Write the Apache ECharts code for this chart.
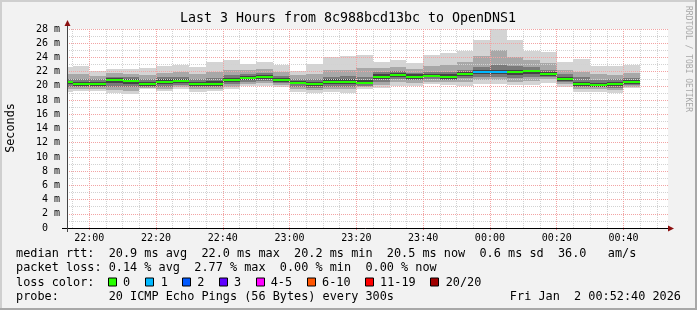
<!DOCTYPE html>
<html>
<head>
<meta charset="utf-8">
<script src="https://cdn.jsdelivr.net/npm/echarts@6/dist/echarts.min.js"></script>
<style>html,body{margin:0;padding:0;background:#f2f2f2}#c{width:697px;height:310px}</style>
</head>
<body>
<div id="c"></div>
<script>
// ---- data ----
const plotStart = "21:53:20";
const plotEnd = "00:53:20";
const bucketEnd = ["21:55","22:00","22:05","22:10","22:15","22:20","22:25","22:30","22:35","22:40","22:45","22:50","22:55","23:00","23:05","23:10","23:15","23:20","23:25","23:30","23:35","23:40","23:45","23:50","23:55","00:00","00:05","00:10","00:15","00:20","00:25","00:30","00:35","00:40","00:45"];
const median = [20.5,20.3,20.3,20.85,20.75,20.3,20.6,20.75,20.3,20.3,20.85,21.15,21.3,20.85,20.45,20.25,20.6,20.6,20.45,21.3,21.55,21.3,21.45,21.3,21.7,21.9,21.9,21.9,22.05,21.7,21.0,20.3,20.15,20.25,20.5];
const lossCount = [0,0,0,0,0,0,0,0,0,0,0,0,0,0,0,0,0,0,0,0,0,0,0,0,0,1,1,0,0,0,0,0,0,0,0];
const minV = [19.2,19.3,19.3,18.95,18.85,19.5,19.3,19.5,19.2,19.3,19.5,20.0,20.0,19.8,19.2,18.95,19.2,18.95,19.5,19.65,20.0,20.0,20.2,20.1,20.0,20.3,20.3,20.1,20.1,20.45,19.8,19.2,19.2,18.95,19.65];
const maxV = [22.7,22.85,22.1,22.4,22.4,22.5,22.85,23.0,22.7,23.4,23.6,23.1,23.4,22.9,22.1,23.1,24.0,24.2,24.35,23.3,23.6,23.2,24.35,24.65,24.95,26.45,28.1,26.45,24.95,24.8,23.3,23.8,22.8,22.85,23.0];
const lo1 = [19.6,19.6,19.6,19.4,19.3,19.7,19.6,19.8,19.6,19.6,19.9,20.3,20.4,20.1,19.6,19.4,19.6,19.5,19.8,20.1,20.5,20.4,20.6,20.5,20.6,20.8,20.8,20.6,20.7,20.9,20.2,19.6,19.5,19.4,19.9];
const hi1 = [21.6,21.7,21.4,21.8,21.7,21.5,21.8,22.0,21.6,21.9,22.2,22.2,22.4,22.0,21.5,21.6,22.2,22.3,22.5,22.5,22.7,22.4,22.8,22.9,23.3,24.2,25.0,24.1,23.6,23.2,22.3,22.0,21.6,21.5,21.8];
const lo2 = [19.9,19.9,19.9,19.9,19.8,19.9,19.9,20.1,19.8,19.9,20.3,20.6,20.7,20.4,19.9,19.7,19.9,19.9,20.0,20.6,20.9,20.8,20.9,20.8,21.1,21.2,21.2,21.1,21.2,21.2,20.5,19.9,19.8,19.7,20.1];
const hi2 = [21.0,21.0,20.9,21.3,21.2,21.0,21.2,21.3,21.0,21.1,21.5,21.7,21.8,21.4,21.0,20.9,21.3,21.4,21.3,21.9,22.1,21.8,22.0,21.9,22.3,22.7,23.0,22.8,22.7,22.3,21.6,21.2,20.8,20.9,21.1];
const lo3 = [20.2,20.0,20.0,20.4,20.3,20.05,20.2,20.4,20.0,20.0,20.5,20.8,21.0,20.6,20.2,19.95,20.3,20.3,20.2,21.0,21.2,21.0,21.2,21.0,21.4,21.6,21.6,21.5,21.6,21.4,20.7,20.0,19.9,19.95,20.3];
const hi3 = [20.7,20.6,20.6,21.1,21.0,20.6,20.9,21.0,20.6,20.7,21.1,21.4,21.5,21.1,20.7,20.5,20.9,20.9,20.8,21.6,21.8,21.6,21.7,21.6,22.0,22.2,22.3,22.2,22.3,22.0,21.3,20.6,20.4,20.5,20.8];
const xTickLabels = ["22:00","22:20","22:40","23:00","23:20","23:40","00:00","00:20","00:40"];
const yMax = 28, yStep = 2;
const lossLabels = ["0","1","2","3","4-5","6-10","11-19","20/20"];
const lossColors = ["#26ff00","#00b8ff","#0059ff","#5e00ff","#ff00ff","#ff5500","#ff0000","#a10000"];
const titleText = "Last 3 Hours from 8c988bcd13bc to OpenDNS1";
const line1 = "median rtt:  20.9 ms avg  22.0 ms max  20.2 ms min  20.5 ms now  0.6 ms sd  36.0   am/s";
const line2 = "packet loss: 0.14 % avg  2.77 % max  0.00 % min  0.00 % now";
const line4 = "probe:       20 ICMP Echo Pings (56 Bytes) every 300s";
const dateText = "Fri Jan  2 00:52:40 2026";

// ---- helpers ----
function toMin(s){const p=s.split(':').map(Number);let h=p[0];if(h<12)h+=24;return (h-21)*60+p[1]+(p[2]||0)/60;}
function fmtMin(v){const m=Math.round(v)+21*60;const h=Math.floor(m/60)%24;const mm=m%60;return (h<10?'0':'')+h+':'+(mm<10?'0':'')+mm;}
const xMin = toMin(plotStart), xMax = toMin(plotEnd);
const ends = bucketEnd.map(toMin);
const starts = ends.map((e,i)=> i===0 ? xMin : ends[i-1]);
const majorVals = xTickLabels.map(toMin);
const minorVals = [];
for (let v = 55; v < xMax; v += 5) { if (v % 20 !== 0) minorVals.push(v); }

const smokeData = ends.map((e,i)=>[starts[i], e, minV[i], lo1[i], lo2[i], lo3[i], hi3[i], hi2[i], hi1[i], maxV[i]]);
const medData = ends.map((e,i)=>[starts[i], e, median[i], lossCount[i]]);
function lossColor(n){ if(n<=0) return lossColors[0]; if(n===1) return lossColors[1]; if(n===2) return lossColors[2]; if(n===3) return lossColors[3]; if(n<=5) return lossColors[4]; if(n<=10) return lossColors[5]; if(n<=19) return lossColors[6]; return lossColors[7]; }

const MONO = '"DejaVu Sans Mono"';
const chart = echarts.init(document.getElementById('c'), null, {renderer:'canvas'});

const G = {left:67, top:29, right:29, bottom:82};
const pinkGrid = '#f2a4a4', greyGrid = '#d2d2d2';

function txt(x,y,text,size,opts){
  opts = opts||{};
  return {type:'text', x:x, y:y, rotation:opts.rot||0, z:20, silent:true,
    style:{text:text, font:size+'px '+MONO, fill:opts.fill||'#000',
      textAlign:opts.align||'left', align:opts.align||'left',
      textVerticalAlign:'middle', verticalAlign:'middle'}};
}

const graphics = [
  {type:'rect', shape:{x:0,y:0,width:697,height:2}, style:{fill:'#cfcfcf'}, z:20, silent:true},
  {type:'rect', shape:{x:0,y:0,width:2,height:310}, style:{fill:'#cfcfcf'}, z:20, silent:true},
  {type:'rect', shape:{x:695,y:0,width:2,height:310}, style:{fill:'#a8a8a8'}, z:20, silent:true},
  {type:'rect', shape:{x:0,y:308,width:697,height:2}, style:{fill:'#a8a8a8'}, z:20, silent:true},
  {type:'line', shape:{x1:62,y1:228.5,x2:669,y2:228.5}, style:{stroke:'#000',lineWidth:1}, z:20, silent:true},
  {type:'polygon', shape:{points:[[668,225.5],[674,228.5],[668,231.5]]}, style:{fill:'#8c1010'}, z:20, silent:true},
  {type:'line', shape:{x1:67.5,y1:232,x2:67.5,y2:24}, style:{stroke:'#444',lineWidth:1}, z:20, silent:true},
  {type:'polygon', shape:{points:[[64.5,26],[67.5,20],[70.5,26]]}, style:{fill:'#8c1010'}, z:20, silent:true},
  txt(348,19,titleText,13.3,{align:'center'}),
  txt(11,128,'Seconds',11.8,{align:'center',rot:Math.PI/2}),
  txt(688,59,'RRDTOOL / TOBI OETIKER',8,{align:'center',rot:-Math.PI/2,fill:'#a8a8a8'}),
  txt(16,254,line1,11.85),
  txt(16,268,line2,11.85),
  txt(16,282.5,'loss color:',11.85),
  txt(16,296.5,line4,11.85),
  txt(681,296.5,dateText,11.85,{align:'right'})
];
const boxX = [108.5,145.5,182.5,219.5,256.5,307.5,365.5,430.5];
const labX = [123,160.7,197.3,234,270.7,322,380,445.7];
lossLabels.forEach((l,i)=>{
  graphics.push({type:'rect', shape:{x:boxX[i], y:278, width:8, height:8}, style:{fill:lossColors[i], stroke:'#000', lineWidth:1}, z:20, silent:true});
  graphics.push(txt(labX[i],282.5,l,11.85));
});

const option = {
  animation:false,
  backgroundColor:'#f2f2f2',
  grid:{left:G.left, top:G.top, right:G.right, bottom:G.bottom, show:true, backgroundColor:'#ffffff', borderWidth:0},
  xAxis:[
    {type:'value', min:xMin, max:xMax, z:3,
      axisLine:{show:false},
      axisTick:{show:true, length:2, lineStyle:{color:'#e88'}, customValues:majorVals},
      axisLabel:{customValues:majorVals, formatter:v=>fmtMin(v), fontFamily:'DejaVu Sans Mono', fontSize:10, color:'#000', margin:5},
      splitLine:{show:true, lineStyle:{color:pinkGrid, width:1, type:[1,1]}}},
    {type:'value', min:xMin, max:xMax, z:2, position:'bottom',
      axisLine:{show:false},
      axisTick:{show:false, customValues:minorVals},
      axisLabel:{show:false, customValues:minorVals},
      splitLine:{show:true, lineStyle:{color:greyGrid, width:1, type:[1,1]}}}
  ],
  yAxis:{type:'value', min:0, max:yMax, interval:yStep, z:3,
    axisLine:{show:false}, axisTick:{show:false},
    axisLabel:{formatter:v=> v===0 ? '0  ' : v+' m', fontFamily:'DejaVu Sans Mono', fontSize:10, color:'#000', margin:7},
    splitLine:{show:true, lineStyle:{color:pinkGrid, width:1, type:[1,1]}},
    minorTick:{show:false, splitNumber:2},
    minorSplitLine:{show:true, lineStyle:{color:greyGrid, width:1, type:[1,1]}}
  },
  series:[
    {type:'custom', name:'smoke', xAxisIndex:0, z:2, clip:true, silent:true,
      encode:{x:[0,1], y:[2,3,4,5,6,7,8,9]},
      data:smokeData,
      renderItem:function(params, api){
        const x0 = api.value(0), x1 = api.value(1);
        const levels = [[2,9,'#d4d4d4'],[3,8,'#a8a8a8'],[4,7,'#7a7a7a'],[5,6,'#444444']];
        const children = levels.map(function(L){
          const pTop = api.coord([x0, api.value(L[1])]);
          const pBot = api.coord([x1, api.value(L[0])]);
          const xa = Math.round(pTop[0]), xb = Math.round(pBot[0]);
          const ya = Math.round(pTop[1]), yb = Math.round(pBot[1]);
          return {type:'rect', shape:{x:xa, y:ya, width:xb-xa, height:Math.max(1,yb-ya)}, style:{fill:L[2]}};
        });
        return {type:'group', children:children};
      }},
    {type:'custom', name:'median', xAxisIndex:0, z:5, clip:true, silent:true,
      encode:{x:[0,1], y:2},
      data:medData,
      renderItem:function(params, api){
        const p0 = api.coord([api.value(0), api.value(2)]);
        const p1 = api.coord([api.value(1), api.value(2)]);
        const xa = Math.round(p0[0]), xb = Math.round(p1[0]), y = Math.round(p0[1]);
        return {type:'rect', shape:{x:xa, y:y-1, width:xb-xa, height:2}, style:{fill:lossColor(api.value(3))}};
      }}
  ],
  graphic:graphics
};
chart.setOption(option);
</script>
</body>
</html>
